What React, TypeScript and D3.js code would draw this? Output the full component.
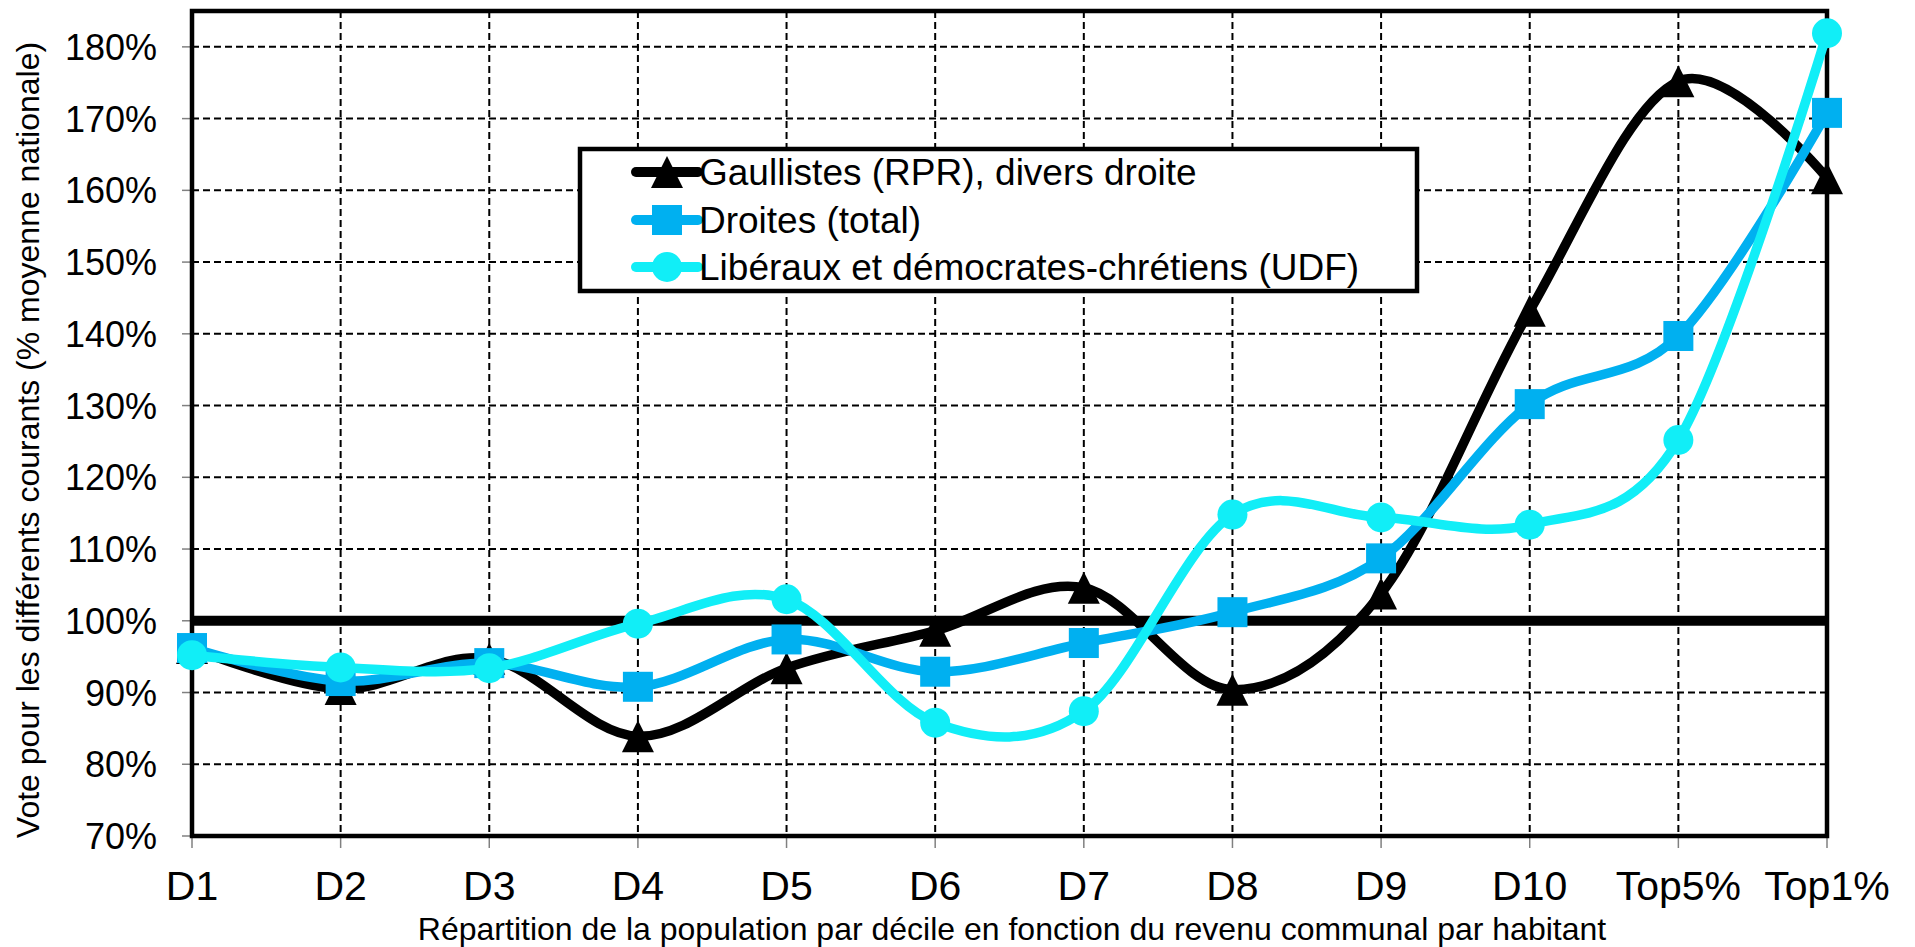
import React from 'react';
import * as d3 from 'd3';

const categories = ['D1', 'D2', 'D3', 'D4', 'D5', 'D6', 'D7', 'D8', 'D9', 'D10', 'Top5%', 'Top1%'];
const gaullistes = [96.2, 90.5, 94.7, 83.9, 93.4, 98.6, 104.6, 90.4, 103.8, 143.2, 175.2, 161.7];
const droites = [96.2, 91.6, 94.1, 90.8, 97.4, 92.9, 96.9, 101.2, 108.7, 130.2, 139.7, 170.8];
const udf = [95.2, 93.5, 93.4, 99.6, 103.0, 85.8, 87.4, 114.8, 114.4, 113.4, 125.2, 181.9];
const yTicks = [70, 80, 90, 100, 110, 120, 130, 140, 150, 160, 170, 180];
const seriesNames = ['Gaullistes (RPR), divers droite', 'Droites (total)', 'Libéraux et démocrates-chrétiens (UDF)'];
const xTitle = 'Répartition de la population par décile en fonction du revenu communal par habitant';
const yTitle = 'Vote pour les différents courants (% moyenne nationale)';

const FONT = '"Liberation Sans", Arial, sans-serif';
const BLACK = '#000000';
const BLUE = '#00B0F0';
const CYAN = '#11EEF7';

type Shape = 'triangle' | 'square' | 'circle';

function Marker({ cx, cy, shape, color }: { cx: number; cy: number; shape: Shape; color: string }) {
  if (shape === 'triangle') {
    const w = 32, h = 32;
    return <path d={`M${cx},${cy - h / 2} L${cx + w / 2},${cy + h / 2} L${cx - w / 2},${cy + h / 2} Z`} fill={color} />;
  }
  if (shape === 'square') {
    const s = 30;
    return <rect x={cx - s / 2} y={cy - s / 2} width={s} height={s} fill={color} />;
  }
  return <circle cx={cx} cy={cy} r={15} fill={color} />;
}

export default function App() {
  const W = 1915, H = 947;
  const left = 192, right = 1827, top = 11, bottom = 836;
  const x = d3.scalePoint<string>().domain(categories).range([left, right]);
  const y = d3.scaleLinear().domain([70, 185]).range([bottom, top]);
  const line = d3
    .line<number>()
    .x((_, i) => x(categories[i]) as number)
    .y((d) => y(d))
    .curve(d3.curveCardinal.tension(0));

  const series = [
    { name: seriesNames[0], values: gaullistes, color: BLACK, shape: 'triangle' as Shape },
    { name: seriesNames[1], values: droites, color: BLUE, shape: 'square' as Shape },
    { name: seriesNames[2], values: udf, color: CYAN, shape: 'circle' as Shape },
  ];

  const legX = 580, legY = 149, legW = 837, legH = 142;
  const legRows = [172, 220, 267];

  return (
    <svg width={W} height={H} style={{ position: 'absolute', left: 0, top: 0, background: '#fff' }} fontFamily={FONT}>
      {/* horizontal grid */}
      {yTicks.filter((t) => t !== 70).map((t) => (
        <line key={'hg' + t} x1={left} x2={right} y1={y(t)} y2={y(t)} stroke="#000" strokeWidth={2} strokeDasharray="7,4" />
      ))}
      {/* vertical grid */}
      {categories.slice(1, -1).map((c) => (
        <line key={'vg' + c} x1={x(c)} x2={x(c)} y1={top} y2={bottom} stroke="#000" strokeWidth={2} strokeDasharray="7,4" />
      ))}
      {/* y ticks */}
      {yTicks.map((t) => (
        <g key={'yt' + t}>
          <line x1={182} x2={left} y1={y(t)} y2={y(t)} stroke="#808080" strokeWidth={1.5} />
          <text x={157} y={y(t) + 13} fontSize={36} textAnchor="end" fill="#000">{t}%</text>
        </g>
      ))}
      {/* x ticks */}
      {categories.map((c) => (
        <g key={'xt' + c}>
          <line x1={x(c)} x2={x(c)} y1={bottom} y2={bottom + 12} stroke="#808080" strokeWidth={1.5} />
          <text x={x(c)} y={900} fontSize={41} textAnchor="middle" fill="#000">{c}</text>
        </g>
      ))}
      {/* 100% reference line */}
      <line x1={left} x2={right} y1={y(100)} y2={y(100)} stroke="#000" strokeWidth={10} />
      {/* plot border */}
      <rect x={left} y={top} width={right - left} height={bottom - top} fill="none" stroke="#000" strokeWidth={4.5} />
      {/* legend */}
      <rect x={legX} y={legY} width={legW} height={legH} fill="#fff" stroke="#000" strokeWidth={4.5} />
      {series.map((s, i) => (
        <g key={'leg' + i}>
          <line x1={636} x2={698} y1={legRows[i]} y2={legRows[i]} stroke={s.color} strokeWidth={10} strokeLinecap="round" />
          <Marker cx={667} cy={legRows[i]} shape={s.shape} color={s.color} />
          <text x={699} y={legRows[i] + 13} fontSize={37} fill="#000">{s.name}</text>
        </g>
      ))}
      {/* series */}
      {series.map((s, i) => (
        <g key={'s' + i}>
          <path d={line(s.values) || ''} fill="none" stroke={s.color} strokeWidth={9.5} strokeLinejoin="round" />
          {s.values.map((v, j) => (
            <Marker key={j} cx={x(categories[j]) as number} cy={y(v)} shape={s.shape} color={s.color} />
          ))}
        </g>
      ))}
      {/* axis titles */}
      <text x={1012} y={940} fontSize={32} textAnchor="middle" fill="#000">{xTitle}</text>
      <text transform={`translate(39,440) rotate(-90)`} fontSize={32} textAnchor="middle" fill="#000">{yTitle}</text>
    </svg>
  );
}
